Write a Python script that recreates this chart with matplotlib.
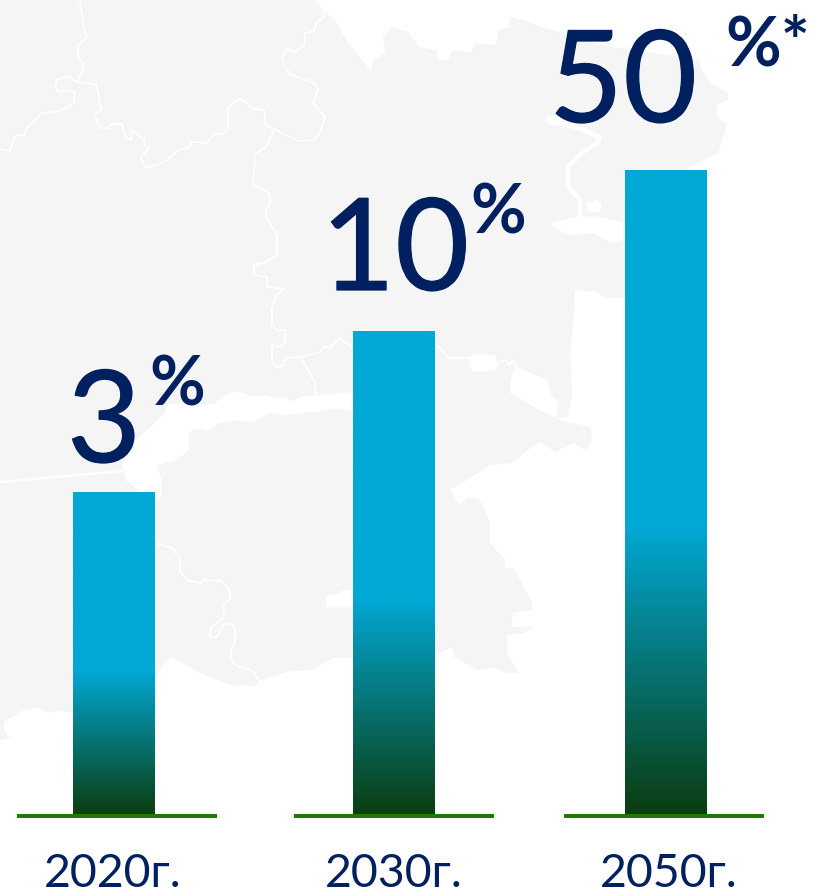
import numpy as np
import matplotlib
matplotlib.use('Agg')
import matplotlib.pyplot as plt
import matplotlib.patheffects as pe
from matplotlib.colors import LinearSegmentedColormap

plt.rcParams['font.family'] = ['Lato', 'Open Sans', 'DejaVu Sans']

# Данные
years = ['2020г.', '2030г.', '2050г.']
percents = ['3', '10', '50']
suffixes = ['%', '%', '%*']
bar_heights = [323, 484, 645]   # высота столбцов как на картинке

# Расположение
W, H = 815, 892
BASE = 815                      # базовая линия в пикселях
bar_x = [114, 394, 666]
bar_w = 82
line_x = [(17, 217), (294, 494), (564, 764)]
num_pos = [(67, 462), (321, 290), (549, 122)]
suf_pos = [(149, 405), (470, 233), (725, 65)]
year_x = [113, 394, 669]

NAVY = '#002060'
GREEN = '#1f7a00'
LAND = '#f5f5f5'

# Карта на фоне: контуры в пикселях исходной картинки
land = [(0, 0), (314, 0), (337, 23), (348, 43), (371, 71), (373, 60), (385, 53), (383, 37), (392, 27),
        (408, 32), (419, 47), (436, 50), (438, 60), (448, 60), (453, 50), (471, 53), (475, 43), (496, 45),
        (499, 30), (509, 27), (511, 17), (522, 20), (551, 30), (600, 45), (700, 60), (700, 68), (710, 82),
        (728, 93), (728, 100), (717, 105), (717, 117), (727, 125), (718, 153), (690, 167), (650, 200),
        (640, 298), (625, 298), (607, 298), (595, 292), (575, 290), (574, 320), (570, 350), (572, 395),
        (568, 417), (557, 418), (560, 420), (590, 427), (592, 437), (589, 447), (585, 450), (574, 443),
        (555, 452), (540, 442), (528, 450), (513, 463), (490, 465), (467, 480), (450, 490), (459, 505),
        (469, 497), (480, 500), (490, 523), (490, 543), (505, 560), (505, 568), (513, 568), (522, 583),
        (532, 603), (532, 610), (513, 613), (511, 627), (534, 627), (524, 633), (507, 635), (507, 653),
        (513, 663), (518, 673), (505, 673), (494, 667), (478, 670), (455, 658), (452, 647), (435, 655),
        (352, 658), (333, 658), (312, 670), (291, 671), (260, 680), (256, 686), (230, 685), (199, 673),
        (172, 657), (161, 667), (155, 678), (73, 713), (57, 710), (50, 713), (38, 708), (23, 710),
        (4, 722), (4, 730), (10, 738), (0, 740)]

white_blobs = [
    [(122, 463), (136, 440), (150, 428), (165, 413), (168, 405), (190, 404), (214, 405), (222, 397),
     (230, 393), (240, 392), (254, 397), (265, 395), (275, 398), (285, 398), (290, 402), (302, 397),
     (346, 393), (360, 393), (360, 412), (340, 408), (302, 413), (283, 415), (270, 412), (253, 422),
     (235, 420), (218, 423), (210, 431), (195, 428), (188, 433), (189, 450), (176, 460), (157, 465),
     (161, 480), (161, 497), (155, 503), (126, 480)],
    [(469, 358), (475, 354), (495, 356), (499, 368), (490, 371), (472, 371)],
    [(517, 368), (547, 380), (551, 395), (559, 403), (555, 417), (536, 408), (528, 403), (511, 393),
     (511, 383), (513, 373)],
    [(325, 597), (337, 594), (345, 590), (360, 592), (360, 607), (327, 607)],
    [(553, 222), (577, 217), (600, 217), (623, 223), (623, 240), (613, 243), (593, 233), (570, 235),
     (553, 227)],
    [(587, 203), (597, 200), (602, 205), (600, 211), (588, 212)],
    [(548, 116), (560, 117), (565, 125), (550, 125)],
]

borders = [
    [(0, 149), (10, 151), (15, 136), (24, 135), (27, 128), (42, 113), (60, 111), (74, 103), (75, 92),
     (67, 90), (59, 92), (55, 87), (57, 79), (70, 77), (77, 82), (96, 84), (99, 97), (101, 110),
     (94, 115), (100, 128), (109, 128), (111, 124), (122, 124), (126, 138), (131, 140), (132, 130),
     (144, 140), (145, 146), (149, 147), (141, 158), (145, 168), (163, 163), (180, 149), (189, 148),
     (192, 142), (207, 143), (214, 134), (222, 134), (228, 128), (228, 108), (240, 98), (249, 105),
     (254, 109), (264, 110), (266, 125), (298, 141), (314, 140), (320, 133), (325, 117), (313, 103),
     (318, 90), (314, 83), (290, 74), (284, 65), (282, 57), (287, 49), (295, 52), (304, 45), (305, 33),
     (314, 31), (317, 22), (323, 18), (324, 12)],
    [(80, 0), (82, 15), (85, 32), (87, 37), (78, 45), (78, 57), (84, 65), (82, 68), (82, 73), (78, 78),
     (78, 82)],
    [(274, 130), (266, 147), (255, 154), (254, 173), (253, 185), (269, 193), (270, 205), (266, 209),
     (266, 218), (277, 235), (277, 255), (266, 262), (254, 265), (254, 275), (267, 277), (267, 287),
     (284, 289), (277, 295), (272, 308), (272, 325), (277, 330), (285, 330), (285, 343), (279, 347),
     (272, 345), (272, 362), (277, 368), (283, 365), (285, 358), (301, 357), (320, 352), (325, 346),
     (330, 349), (339, 338), (352, 347)],
    [(301, 357), (315, 383), (316, 393)],
    [(435, 345), (440, 348), (448, 358), (470, 358)],
    [(499, 362), (506, 360), (509, 365), (513, 360), (517, 368)],
    [(155, 543), (172, 548), (180, 558), (180, 572), (189, 581), (201, 583), (203, 580), (221, 581),
     (230, 590), (230, 599), (223, 604), (224, 618), (210, 628), (210, 637), (217, 637), (224, 624),
     (232, 624), (235, 628), (235, 643), (231, 648), (231, 658), (235, 665), (253, 671), (259, 681)],
]

thin_line = [(0, 482), (122, 471)]
river = [(548, 120), (578, 128), (600, 137), (597, 143), (583, 152), (568, 167), (568, 187), (580, 200),
         (580, 217)]


def to_xy(pts):
    # из пикселей картинки в координаты осей
    a = np.array(pts, dtype=float)
    return a[:, 0], BASE - a[:, 1]


fig = plt.figure(figsize=(W / 100, H / 100), dpi=100)
ax = fig.add_axes([0, 0, 1, 1])
ax.set_xlim(0, W)
ax.set_ylim(BASE - H, BASE)
ax.axis('off')

x, y = to_xy(land)
ax.fill(x, y, color=LAND, lw=0, zorder=1)
for blob in white_blobs:
    x, y = to_xy(blob)
    ax.fill(x, y, color='white', lw=0.5, zorder=1.1)
for b in borders:
    x, y = to_xy(b)
    ax.plot(x, y, color='white', lw=1.3, zorder=1.2)
x, y = to_xy(thin_line)
ax.plot(x, y, color='white', lw=1.8, zorder=1.2)
x, y = to_xy(river)
ax.plot(x, y, color='white', lw=3.2, zorder=1.2)

# Столбцы с градиентом
cmap = LinearSegmentedColormap.from_list('bar', [(0, '#02a9d6'), (0.55, '#02a9d6'), (1, '#0b3d10')])
grad = np.linspace(0, 1, 256).reshape(-1, 1)
bars = ax.bar(bar_x, bar_heights, width=bar_w, color='none', lw=0, zorder=3)
for b in bars:
    im = ax.imshow(grad, cmap=cmap, aspect='auto', vmin=0, vmax=1, zorder=3,
                   extent=[b.get_x(), b.get_x() + b.get_width(), 0, b.get_height()])
    im.set_clip_path(b)
ax.set_xlim(0, W)
ax.set_ylim(BASE - H, BASE)

for x0, x1 in line_x:
    ax.plot([x0, x1], [-1, -1], color=GREEN, lw=2.9, solid_capstyle='butt', zorder=4)

thick = [pe.withStroke(linewidth=0.9, foreground=NAVY, capstyle='round')]
for i in range(3):
    ax.text(num_pos[i][0], BASE - num_pos[i][1], percents[i], color=NAVY, fontsize=92,
            ha='left', va='baseline', zorder=5, path_effects=thick)
    ax.text(suf_pos[i][0], BASE - suf_pos[i][1], suffixes[i], color=NAVY, fontsize=49,
            fontweight='bold', ha='left', va='baseline', zorder=5)
    ax.text(year_x[i], BASE - 887, years[i], color=NAVY, fontsize=33.5,
            ha='center', va='baseline', zorder=5)

fig.savefig('out.png', dpi=100)
